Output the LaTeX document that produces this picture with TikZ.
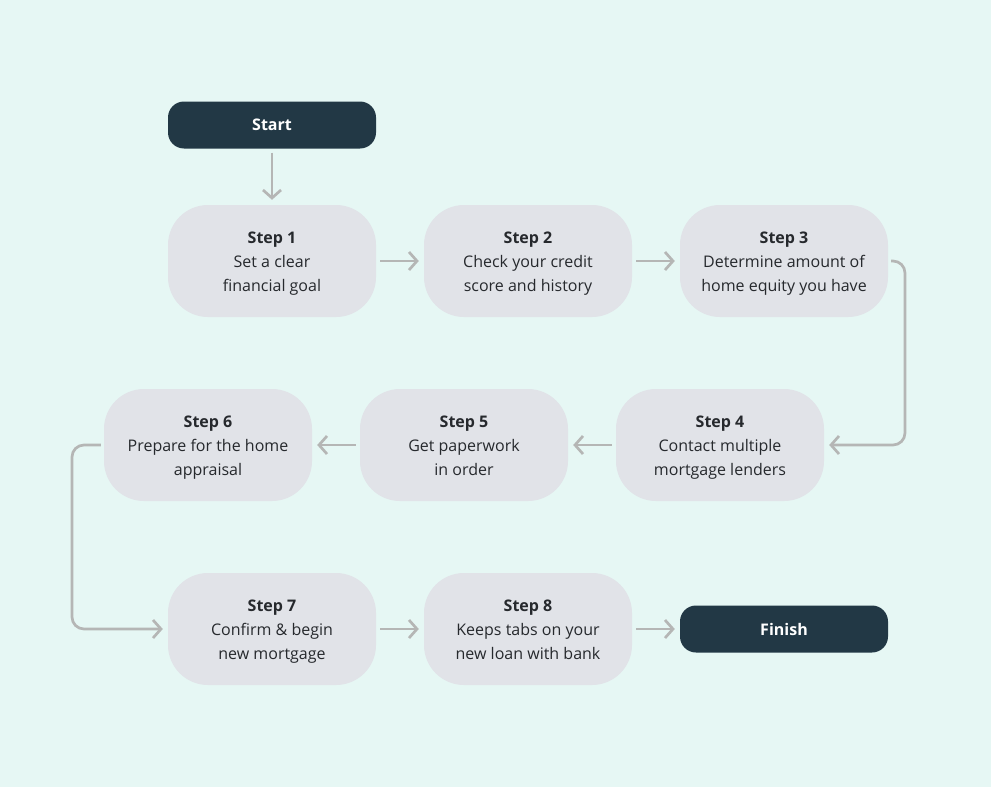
\documentclass[tikz,border=0pt]{standalone}
\usepackage{fontspec}
\setmainfont{Open Sans}
\usetikzlibrary{arrows.meta}
\definecolor{bgc}{HTML}{E6F7F4}
\definecolor{boxc}{HTML}{E1E3E8}
\definecolor{darkc}{HTML}{223845}
\definecolor{txtc}{HTML}{26292D}
\definecolor{arrc}{HTML}{B5B6B5}
\tikzset{
  stepbox/.style={fill=boxc, rounded corners=40pt, minimum width=208pt, minimum height=112pt,
    align=center, text=txtc, font=\fontsize{16}{24}\selectfont, inner sep=0pt},
  termbox/.style={fill=darkc, rounded corners=16pt, minimum width=208pt, minimum height=47pt,
    text=white, font=\fontsize{16}{24}\selectfont\bfseries, inner sep=0pt},
  conn/.style={draw=arrc, line width=2.7pt, -{Straight Barb[length=8pt,width=18pt,line width=2.7pt]}},
}
\newcommand{\stp}[3]{\rule{0pt}{21pt}\textbf{#1}\\#2\\#3\strut}
\begin{document}
\begin{tikzpicture}[x=1pt,y=-1pt]
\fill[bgc] (0,0) rectangle (991,787);
\useasboundingbox (0,0) rectangle (991,787);
\node[termbox] (start) at (272,125) {Start};
\node[stepbox] (s1) at (272,261) {\stp{Step 1}{Set a clear}{financial goal}};
\node[stepbox] (s2) at (528,261) {\stp{Step 2}{Check your credit}{score and history}};
\node[stepbox] (s3) at (784,261) {\stp{Step 3}{Determine amount of}{home equity you have}};
\node[stepbox] (s4) at (720,445) {\stp{Step 4}{Contact multiple}{mortgage lenders}};
\node[stepbox] (s5) at (464,445) {\stp{Step 5}{Get paperwork}{in order}};
\node[stepbox] (s6) at (208,445) {\stp{Step 6}{Prepare for the home}{appraisal}};
\node[stepbox] (s7) at (272,629) {\stp{Step 7}{Confirm \& begin}{new mortgage}};
\node[stepbox] (s8) at (528,629) {\stp{Step 8}{Keeps tabs on your}{new loan with bank}};
\node[termbox] (fin) at (784,629) {Finish};
\draw[conn] ([yshift=-4pt]start.south) -- ([yshift=5pt]s1.north);
\draw[conn] ([xshift=4pt]s1.east) -- ([xshift=-5pt]s2.west);
\draw[conn] ([xshift=4pt]s2.east) -- ([xshift=-5pt]s3.west);
\draw[conn] ([xshift=-4pt]s4.west) -- ([xshift=5pt]s5.east);
\draw[conn] ([xshift=-4pt]s5.west) -- ([xshift=5pt]s6.east);
\draw[conn] ([xshift=4pt]s7.east) -- ([xshift=-5pt]s8.west);
\draw[conn] ([xshift=4pt]s8.east) -- ([xshift=-5pt]fin.west);
\draw[conn, rounded corners=12pt] ([xshift=3pt]s3.east) -| (905,445) -- ([xshift=5pt]s4.east);
\draw[conn, rounded corners=12pt] ([xshift=-3pt]s6.west) -| (72,629) -- ([xshift=-5pt]s7.west);
\end{tikzpicture}
\end{document}
